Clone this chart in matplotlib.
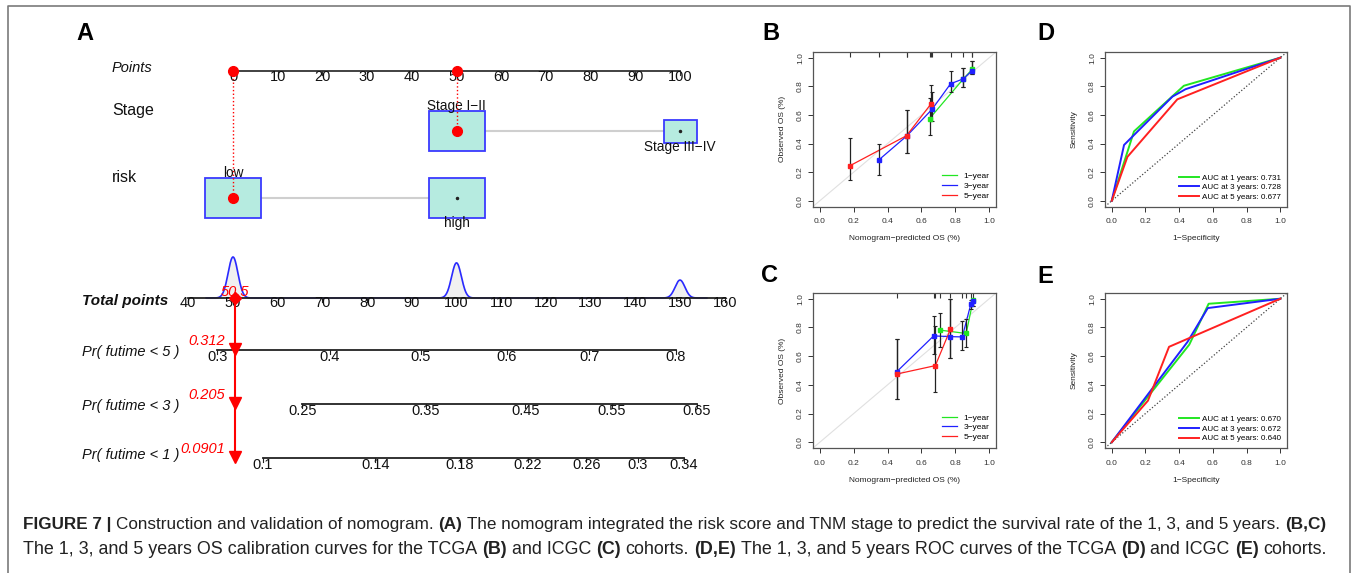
import numpy as np
import matplotlib
matplotlib.use('Agg')
import matplotlib.pyplot as plt
from matplotlib.lines import Line2D
from matplotlib.patches import Rectangle

plt.rcParams['font.family'] = ['Liberation Sans', 'DejaVu Sans']

W, H = 1356, 573

# ---------------- panel A : nomogram ----------------
POINT_TICKS = list(range(0, 101, 10))
STAGE_LEVELS = ['Stage I\u2212II', 'Stage III\u2212IV']
STAGE_POINTS = [50, 100]
RISK_LEVELS = ['low', 'high']
RISK_POINTS = [0, 50]
OBS_STAGE = 0          # index of observed level
OBS_RISK = 0
OBS_TOTAL = 50.5
TOTAL_TICKS = list(range(40, 161, 10))
GROUP_TOTALS = [50, 100, 150]
GROUP_COUNTS = [160, 137, 70]

PR_LABELS = ['Pr( futime < 5 )', 'Pr( futime < 3 )', 'Pr( futime < 1 )']
PR5_VALUES = [0.3, 0.4, 0.5, 0.6, 0.7, 0.8]
PR5_TOTALS = [46.5, 71.7, 92.0, 111.2, 129.7, 149.1]
PR3_VALUES = [0.25, 0.35, 0.45, 0.55, 0.65]
PR3_TOTALS = [65.5, 93.1, 115.4, 134.8, 153.8]
PR1_VALUES = [0.1, 0.14, 0.18, 0.22, 0.26, 0.3, 0.34]
PR1_TOTALS = [56.7, 81.8, 100.7, 116.0, 129.0, 140.6, 150.9]
PR_OBS = ['0.312', '0.205', '0.0901']

# ---------------- panels B, C : calibration ----------------
# (predicted, observed, lower, upper)
B_1Y = ([0.648, 0.846, 0.900], [0.575, 0.850, 0.920], [0.461, 0.792, 0.887], [0.721, 0.927, 0.974])
B_3Y = ([0.347, 0.515, 0.663, 0.772, 0.846, 0.898], [0.284, 0.455, 0.640, 0.818, 0.852, 0.908],
        [0.182, 0.331, 0.555, 0.761, 0.792, 0.887], [0.397, 0.638, 0.760, 0.905, 0.927, 0.974])
B_5Y = ([0.178, 0.512, 0.655], [0.245, 0.455, 0.675], [0.142, 0.331, 0.555], [0.437, 0.638, 0.808])

C_1Y = ([0.712, 0.864, 0.905], [0.781, 0.758, 0.990], [0.666, 0.666, 0.950], [0.899, 0.859, 1.000])
C_3Y = ([0.453, 0.672, 0.771, 0.841, 0.892, 0.905], [0.490, 0.741, 0.736, 0.734, 0.965, 0.985],
        [0.299, 0.616, 0.586, 0.642, 0.930, 0.950], [0.718, 0.882, 1.000, 0.847, 0.988, 1.000])
C_5Y = ([0.453, 0.682, 0.771], [0.475, 0.534, 0.788], [0.299, 0.350, 0.586], [0.718, 0.810, 1.000])

# ---------------- panels D, E : ROC ----------------
D_FPR = [[0, 0.132, 0.428, 1], [0, 0.073, 0.36, 0.438, 1], [0, 0.093, 0.389, 1]]
D_TPR = [[0, 0.485, 0.804, 1], [0, 0.39, 0.728, 0.78, 1], [0, 0.307, 0.709, 1]]
D_AUC = ['0.731', '0.728', '0.677']
E_FPR = [[0, 0.46, 0.575, 1], [0, 0.45, 0.57, 1], [0, 0.215, 0.34, 1]]
E_TPR = [[0, 0.68, 0.965, 1], [0, 0.70, 0.935, 1], [0, 0.29, 0.665, 1]]
E_AUC = ['0.670', '0.672', '0.640']
YEARS = [1, 3, 5]
COLORS = ['#22e622', '#2020ff', '#ff2020']

CAPTION_1 = [('FIGURE 7 |', True), ('Construction and validation of nomogram.', False), ('(A)', True),
             ('The nomogram integrated the risk score and TNM stage to predict the survival rate of the 1, 3, and 5 years.', False),
             ('(B,C)', True)]
CAPTION_2 = [('The 1, 3, and 5 years OS calibration curves for the TCGA', False), ('(B)', True), ('and ICGC', False),
             ('(C)', True), ('cohorts.', False), ('(D,E)', True), ('The 1, 3, and 5 years ROC curves of the TCGA', False),
             ('(D)', True), ('and ICGC', False), ('(E)', True), ('cohorts.', False)]

fig = plt.figure(figsize=(W / 100, H / 100), dpi=100)

# ---- nomogram axes: x in points, y in pixel rows from the top
PX0, PXU = 233, 4.47


def px2p(px):
    return (px - PX0) / PXU


axA = fig.add_axes([8 / W, 1 - 490 / H, (760 - 8) / W, (490 - 6) / H])
axA.set_xlim(px2p(8), px2p(760))
axA.set_ylim(490, 6)
axA.axis('off')

ROW_POINTS, ROW_STAGE, ROW_RISK, ROW_TOTAL = 71, 131, 198, 298
ROW_PR = [350, 404, 458]
LAB_X = px2p(112)
TXT = dict(fontsize=10.5, color='#111111')

axA.text(LAB_X, 68, 'Points', style='italic', va='center', **TXT)
axA.plot([0, 100], [ROW_POINTS] * 2, color='#333333', lw=1.3, zorder=2)
for t in POINT_TICKS:
    axA.plot([t, t], [ROW_POINTS, ROW_POINTS + 4], color='#333333', lw=0.8)
    axA.text(t, ROW_POINTS + 6, str(t), ha='center', va='center', **TXT)


def draw_variable(name, levels, pts, obs, row, sizes, above):
    axA.text(LAB_X, row - 21, name, va='center', fontsize=11.5, color='#111111')
    axA.plot(pts, [row] * len(pts), color='#cfcfcf', lw=1.5, zorder=1)
    for i, (lev, p) in enumerate(zip(levels, pts)):
        w, h = sizes[i]
        axA.add_patch(Rectangle((p - w / 2 / PXU, row - h / 2), w / PXU, h, fc='#b6ebe0',
                                ec='#3a3aff', lw=1.3, zorder=2))
        if i == obs:
            axA.plot(p, row, 'o', color='red', ms=7, zorder=4)
        else:
            axA.plot(p, row, '.', color='#222222', ms=3, zorder=4)
        if above[i]:
            axA.text(p, row - h / 2 - 5, lev, ha='center', va='center', fontsize=9.8, color='#111111')
        else:
            axA.text(p, row + h / 2 + 5, lev, ha='center', va='center', fontsize=9.8, color='#111111')


draw_variable('Stage', STAGE_LEVELS, STAGE_POINTS, OBS_STAGE, ROW_STAGE, [(56, 40), (33, 23)], [True, False])
draw_variable('risk', RISK_LEVELS, RISK_POINTS, OBS_RISK, ROW_RISK, [(56, 40), (56, 40)], [True, False])

obs_pts = [STAGE_POINTS[OBS_STAGE], RISK_POINTS[OBS_RISK]]
axA.plot(obs_pts, [ROW_POINTS] * 2, 'o', color='red', ms=7, zorder=4)
axA.plot([STAGE_POINTS[OBS_STAGE]] * 2, [ROW_POINTS, ROW_STAGE], ':', color='red', lw=1, zorder=3)
axA.plot([RISK_POINTS[OBS_RISK]] * 2, [ROW_POINTS, ROW_RISK], ':', color='red', lw=1, zorder=3)

# total points axis with density of total points
axA.text(px2p(82), ROW_TOTAL + 3, 'Total points', style='italic', fontweight='bold', va='center',
         fontsize=11, color='#111111')
tp_off = 50
axA.plot([TOTAL_TICKS[0] - tp_off, TOTAL_TICKS[-1] - tp_off], [ROW_TOTAL] * 2, color='#222222', lw=1.3, zorder=3)
for t in TOTAL_TICKS:
    axA.plot([t - tp_off] * 2, [ROW_TOTAL, ROW_TOTAL + 4], color='#222222', lw=0.8)
    axA.text(t - tp_off, ROW_TOTAL + 5, str(t), ha='center', va='center', **TXT)
grid = np.linspace(44, 156, 1500)
dens = sum(c * np.exp(-0.5 * ((grid - g) / 1.1) ** 2) for g, c in zip(GROUP_TOTALS, GROUP_COUNTS))
hgt = dens / dens.max() * 41
axA.fill_between(grid - tp_off, ROW_TOTAL, ROW_TOTAL - hgt, color='#f0f0f0', zorder=1)
axA.plot(grid - tp_off, ROW_TOTAL - hgt, color='#2a2aff', lw=1.2, zorder=2)

# probability axes
pr_axes = [(PR5_VALUES, PR5_TOTALS), (PR3_VALUES, PR3_TOTALS), (PR1_VALUES, PR1_TOTALS)]
pr_lab_y = [352, 406, 455]
for (vals, tots), row, lab, ly, obs in zip(pr_axes, ROW_PR, PR_LABELS, pr_lab_y, PR_OBS):
    x = np.array(tots) - tp_off
    axA.plot([x[0], x[-1]], [row] * 2, color='#222222', lw=1.3, zorder=2)
    for v, xx in zip(vals, x):
        axA.plot([xx, xx], [row, row + 4], color='#222222', lw=0.8)
        axA.text(xx, row + 7, f'{v:g}', ha='center', va='center', **TXT)
    axA.text(px2p(82), ly, lab, style='italic', va='center', **TXT)
    axA.text(px2p(225), row - 9, obs, style='italic', ha='right', va='center', fontsize=10.5, color='red')
    axA.plot(OBS_TOTAL - tp_off, row - 1, 'v', color='red', ms=9, zorder=5)

axA.plot([OBS_TOTAL - tp_off] * 2, [ROW_TOTAL, ROW_PR[-1] - 2], color='red', lw=1.5, zorder=4)
axA.plot(OBS_TOTAL - tp_off, ROW_TOTAL, 'D', color='red', ms=6, zorder=5)
axA.text(OBS_TOTAL - tp_off, ROW_TOTAL - 6, f'{OBS_TOTAL:g}', style='italic', ha='center', va='center',
         fontsize=10.5, color='red', zorder=6)


# ---- small R-style panels
def r_axes(ax, xlabel, ylabel):
    ax.set_xlim(-0.04, 1.04)
    ax.set_ylim(-0.04, 1.04)
    ticks = np.arange(0, 1.01, 0.2)
    ax.set_xticks(ticks)
    ax.set_yticks(ticks)
    ax.set_xticklabels([f'{t:.1f}' for t in ticks])
    ax.set_yticklabels([f'{t:.1f}' for t in ticks], rotation=90, va='center')
    ax.tick_params(length=3.5, width=0.7, labelsize=6, colors='#333333')
    ax.tick_params(axis='x', pad=5)
    ax.tick_params(axis='y', pad=3)
    for s in ax.spines.values():
        s.set_linewidth(0.9)
        s.set_color('#555555')
    ax.set_xlabel(xlabel, fontsize=6, labelpad=7, color='#222222')
    ax.set_ylabel(ylabel, fontsize=6, labelpad=8, color='#222222')


def calibration(ax, series):
    ax.axline((0, 0), (1, 1), color='#e0e0e0', lw=0.8, zorder=0)
    for yr, color, (x, y, lo, hi) in zip(YEARS, COLORS, series):
        y = np.array(y)
        ax.plot(x, y, color=color, lw=0.9, zorder=2, label=f'{yr}\u2212year')
        ax.errorbar(x, y, yerr=[y - np.array(lo), np.array(hi) - y], fmt='none', ecolor='#222222',
                    elinewidth=0.9, capsize=1.6, capthick=0.8, zorder=3)
        ax.plot(x, y, 's', color=color, ms=3, zorder=4)
    allx = sorted(set(np.concatenate([s[0] for s in series])))
    ax.vlines(allx, 1.005, 1.04, color='#333333', lw=0.8)
    r_axes(ax, 'Nomogram\u2212predicted OS (%)', 'Observed OS (%)')
    ax.legend(loc='lower right', frameon=False, fontsize=6, handlelength=1.8, labelspacing=0.25,
              borderaxespad=0.4, handletextpad=0.8)


def roc(ax, fpr, tpr, auc):
    ax.axline((0, 0), (1, 1), color='#444444', lw=0.9, ls=(0, (1, 1.6)), zorder=0)
    for yr, color, f, t, a in zip(YEARS, COLORS, fpr, tpr, auc):
        ax.plot(f, t, color=color, lw=1.4, label=f'AUC at {yr} years: {a}')
    r_axes(ax, '1\u2212Specificity', 'Sensitivity')
    ax.legend(loc='lower right', frameon=False, fontsize=5.8, handlelength=2.5, labelspacing=0.25,
              borderaxespad=0.3, handletextpad=0.4)


axB = fig.add_axes([813 / W, 1 - 206.5 / H, 183 / W, 154.5 / H])
calibration(axB, [B_1Y, B_3Y, B_5Y])
axC = fig.add_axes([813 / W, 1 - 448 / H, 183 / W, 155 / H])
calibration(axC, [C_1Y, C_3Y, C_5Y])
axD = fig.add_axes([1105 / W, 1 - 206.5 / H, 182 / W, 154.5 / H])
roc(axD, D_FPR, D_TPR, D_AUC)
axE = fig.add_axes([1105 / W, 1 - 448 / H, 182 / W, 155 / H])
roc(axE, E_FPR, E_TPR, E_AUC)

for lab, x, y in [('A', 85, 33), ('B', 771, 33), ('C', 769, 275), ('D', 1046, 34), ('E', 1045, 276)]:
    fig.text(x / W, 1 - y / H, lab, ha='center', va='center', fontsize=17, fontweight='bold')

# ---- frame and caption
fig.add_artist(Line2D([8 / W, 8 / W, 1350 / W, 1350 / W], [0, 1 - 6 / H, 1 - 6 / H, 0],
                      transform=fig.transFigure, color='#7a7a7a', lw=1.2))

renderer = fig.canvas.get_renderer()


def text_width(s, weight, size):
    t = fig.text(0, 0, s, fontsize=size, fontweight=weight)
    w = t.get_window_extent(renderer).width
    t.remove()
    return w


def caption_line(runs, x0, y, target_w, size0=11.0):
    space = text_width('a a', 'normal', size0) - text_width('aa', 'normal', size0)
    total = sum(text_width(s, 'bold' if b else 'normal', size0) for s, b in runs) + space * (len(runs) - 1)
    k = target_w / total
    x = x0
    for s, b in runs:
        t = fig.text(x / W, 1 - y / H, s, fontsize=size0 * k, fontweight='bold' if b else 'normal',
                     va='center', ha='left', color='#222222')
        x += t.get_window_extent(renderer).width + space * k


caption_line(CAPTION_1, 23, 524, 1302)
caption_line(CAPTION_2, 23, 550, 1300)

fig.savefig('out.png', dpi=100)
